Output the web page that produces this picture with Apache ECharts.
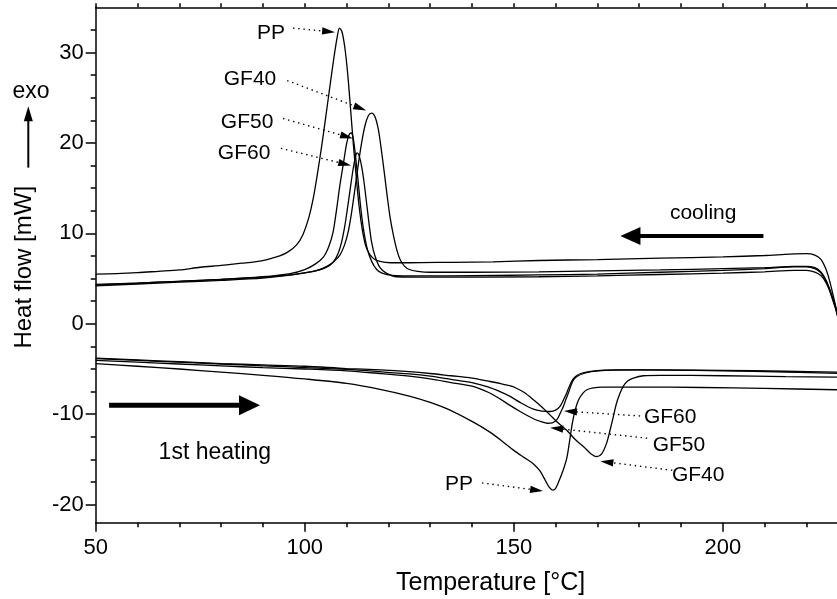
<!DOCTYPE html>
<html><head><meta charset="utf-8">
<script src="https://cdn.jsdelivr.net/npm/echarts@6/dist/echarts.min.js"></script>
<style>html,body{margin:0;padding:0;background:#fff}#c{width:837px;height:599px}</style>
</head><body><div id="c"></div>
<script>
// ---------- tick values ----------
const xTickLabels = [50, 100, 150, 200];
const xMinorTicks = [60, 70, 80, 90, 110, 120, 130, 140, 160, 170, 180, 190, 210, 220];
const xTopTicks = [50, 60, 70, 80, 90, 100, 110, 120, 130, 140, 150, 160, 170, 180, 190, 200, 210, 220];
const yTickLabels = [-20, -10, 0, 10, 20, 30];
const yMinorTicks = [-17.5, -15, -12.5, -7.5, -5, -2.5, 2.5, 5, 7.5, 12.5, 15, 17.5, 22.5, 25, 27.5, 32.5];

// ---------- cooling curves [T, heat flow] ----------
const coolPP = [[50,5.5],[55,5.55],[60,5.65],[65,5.8],[70,5.95],[75,6.25],[80,6.45],[85,6.7],[88,6.85],[91,7.1],[94,7.5],[96,7.95],[98,8.7],[99.5,9.8],[101,11.8],[102,13.8],[103,16.5],[104,19.5],[105,22.8],[106,26.2],[107,29.5],[107.8,31.8],[108.3,32.7],[108.9,32.3],[109.6,30.5],[110.3,27.5],[111,23.5],[111.6,20],[112.3,16.3],[113,13],[113.8,10.3],[114.6,8.6],[115.5,7.7],[116.5,7.2],[118,6.9],[120.5,6.75],[125,6.75],[135,6.8],[145,6.85],[156,7.0],[170,7.1],[185,7.25],[200,7.4],[210,7.55],[216,7.7],[220,7.75],[222,7.6],[223.5,7.1],[224.6,6.1],[225.5,4.8],[226.3,3.3],[227,1.9],[227.6,0.6]];
const coolGF40 = [[50,4.3],[60,4.5],[70,4.7],[80,4.9],[90,5.15],[95,5.35],[98,5.5],[101,5.7],[103.6,6.0],[105.5,6.4],[107,6.9],[108.4,7.6],[109.5,8.7],[110.4,10.2],[111.2,12.3],[112,14.9],[112.8,17.6],[113.6,20],[114.4,21.9],[115.2,23],[116,23.3],[116.8,22.9],[117.6,21.5],[118.3,19.3],[119,16.8],[119.7,14.2],[120.4,11.8],[121.2,9.8],[122,8.2],[122.8,7.1],[123.8,6.4],[125,6.0],[127,5.8],[130,5.7],[140,5.7],[156,5.75],[170,5.85],[185,5.95],[200,6.1],[210,6.2],[217,6.35],[220,6.35],[222,6.2],[223.5,5.7],[224.6,4.9],[225.5,3.9],[226.3,2.8],[227,1.8],[227.6,0.6]];
const coolGF50 = [[50,4.35],[60,4.5],[70,4.7],[80,4.9],[90,5.2],[96.5,5.55],[100,6.0],[102.5,6.6],[104.5,7.4],[105.8,8.6],[106.8,10.2],[107.6,12.6],[108.4,15.3],[109.2,17.6],[110,19.9],[110.6,20.9],[111.1,21.1],[111.6,20.5],[112.2,18.3],[112.8,15.6],[113.4,12.8],[114.1,10.3],[115,8.2],[116,6.9],[117.2,6.0],[118.5,5.6],[121,5.35],[125,5.3],[135,5.3],[156,5.4],[170,5.5],[185,5.7],[200,5.9],[210,6.1],[217,6.3],[220,6.3],[222,6.1],[223.5,5.6],[224.6,4.8],[225.5,3.8],[226.3,2.7],[227,1.7],[227.6,0.6]];
const coolGF60 = [[50,4.2],[60,4.4],[70,4.6],[80,4.8],[90,5.05],[96,5.35],[102,5.8],[105,6.2],[106.8,6.8],[108,7.8],[108.8,9.0],[109.5,10.6],[110.2,12.7],[110.9,15.0],[111.6,17.2],[112.1,18.4],[112.5,18.9],[113,18.6],[113.6,17.4],[114.2,15.6],[114.8,13.3],[115.4,11.0],[116,9.0],[116.8,7.5],[118,6.2],[119.5,5.6],[122,5.2],[130,5.15],[156,5.2],[170,5.3],[185,5.45],[200,5.6],[210,5.75],[217,5.9],[220,5.9],[222,5.7],[223.5,5.3],[224.6,4.6],[225.5,3.7],[226.3,2.6],[227,1.6],[227.6,0.5]];

// ---------- 1st heating curves [T, heat flow] ----------
const heatPP = [[50,-4.4],[60,-4.7],[70,-5.0],[80,-5.35],[90,-5.7],[100,-6.1],[110,-6.6],[118,-7.25],[125,-8.0],[130,-8.7],[135,-9.6],[140,-10.8],[144,-11.9],[147,-12.9],[150,-14.0],[152.5,-14.8],[154.7,-15.5],[156.3,-16.3],[157.5,-17.3],[158.5,-18.1],[159.3,-18.4],[160,-18.2],[160.8,-17.4],[161.8,-16.2],[162.7,-14.8],[163.4,-12.8],[164,-11.0],[164.7,-9.5],[165.5,-8.4],[166.5,-7.7],[167.5,-7.3],[169,-7.1],[171,-7.0],[180,-7.0],[195,-7.05],[210,-7.15],[228,-7.3]];
const heatGF40 = [[50,-3.8],[60,-4.0],[70,-4.2],[80,-4.4],[90,-4.55],[100,-4.7],[110,-4.95],[118,-5.1],[125,-5.3],[130,-5.5],[135,-5.75],[140,-6.0],[144,-6.35],[146.7,-6.6],[149,-6.85],[150.5,-7.1],[152.5,-7.6],[154.7,-8.4],[156.7,-9.2],[158.7,-10.1],[160.7,-11.0],[162.7,-11.8],[164.7,-12.8],[166.7,-13.6],[168.5,-14.4],[169.9,-14.7],[171,-14.4],[172.2,-13.2],[173,-11.8],[173.8,-10.3],[174.5,-8.9],[175.3,-7.8],[176.2,-6.9],[177.3,-6.3],[178.6,-6.0],[181,-5.75],[185,-5.7],[200,-5.75],[215,-5.85],[228,-5.9]];
const heatGF50 = [[50,-4.05],[60,-4.25],[70,-4.45],[80,-4.65],[90,-4.85],[100,-5.0],[110,-5.2],[118,-5.5],[125,-5.8],[130,-6.1],[135,-6.5],[140,-6.9],[144,-7.6],[146.7,-8.3],[149,-9.0],[151.5,-9.7],[154.7,-10.5],[156.7,-10.85],[158,-11.0],[159.2,-10.95],[160.3,-10.6],[161.1,-9.9],[161.9,-9.1],[162.5,-8.3],[163.1,-7.6],[163.7,-6.8],[164.3,-6.2],[165.2,-5.8],[166.7,-5.5],[168.5,-5.3],[172,-5.15],[180,-5.1],[200,-5.2],[215,-5.35],[228,-5.5]];
const heatGF60 = [[50,-3.85],[60,-4.05],[70,-4.25],[80,-4.45],[90,-4.65],[100,-4.85],[110,-5.05],[118,-5.3],[125,-5.55],[130,-5.8],[135,-6.15],[140,-6.5],[144,-7.0],[146.7,-7.5],[149,-8.0],[151.5,-8.7],[154.7,-9.45],[156.7,-9.65],[158.7,-9.7],[160,-9.55],[161.1,-9.1],[162,-8.3],[162.7,-7.6],[163.4,-6.8],[164.2,-6.1],[165,-5.75],[166,-5.5],[168,-5.3],[170.6,-5.15],[175,-5.1],[185,-5.1],[200,-5.15],[215,-5.25],[228,-5.35]];

// ---------- annotations (data units) ----------
const pointerLabels = [
  { text: 'PP',   at: [91.9, 32.1],   from: [97.2, 32.7],   to: [107.25, 32.25] },
  { text: 'GF40', at: [86.9, 27.0],   from: [95.8, 26.9],   to: [114.7, 23.6] },
  { text: 'GF50', at: [86.2, 22.3],   from: [94.8, 22.7],   to: [111.55, 20.5] },
  { text: 'GF60', at: [85.5, 18.9],   from: [94.3, 19.4],   to: [111.1, 17.5] },
  { text: 'PP',   at: [136.9, -17.75],from: [142.4, -17.6], to: [157.0, -18.5] },
  { text: 'GF60', at: [187.4, -10.3], from: [180.2, -10.2], to: [162.0, -9.65] },
  { text: 'GF50', at: [189.5, -13.4], from: [181.9, -12.65],to: [158.7, -11.5] },
  { text: 'GF40', at: [194.1, -16.75],from: [187.9, -16.2], to: [170.7, -15.2] }
];
const bigArrows = [
  { text: 'cooling',     textAt: [195.3, 12.28], from: [209.7, 9.7], to: [175.5, 9.7], w: 4, head: 20, hw: 9, size: 21 },
  { text: '1st heating', textAt: [78.5, -14.2],  from: [53.2, -9.0], to: [89.3, -9.0],  w: 5, head: 21, hw: 10, size: 23 }
];

const FONT = '"Liberation Sans", Arial, sans-serif';
const chart = echarts.init(document.getElementById('c'), null, { renderer: 'canvas' });

function curve(name, data) {
  return { name, type: 'line', data, xAxisIndex: 0, yAxisIndex: 0, symbol: 'none', showSymbol: false,
    smooth: 0.3, lineStyle: { color: '#000', width: 1.3 }, silent: true, animation: false, z: 3 };
}
const axisLineStyle = { color: '#000', width: 1.5 };
const X_MIN = 50, X_MAX = 227.3, Y_MIN = -22, Y_MAX = 35;

chart.setOption({
  animation: false,
  backgroundColor: '#fff',
  grid: { left: 95.7, top: 7.3, bottom: 76.3, right: 0, containLabel: false, outerBoundsMode: 'none' },
  xAxis: [
    { type: 'value', min: X_MIN, max: X_MAX, position: 'bottom',
      axisLine: { show: true, onZero: false, lineStyle: axisLineStyle },
      axisTick: { show: true, customValues: xTickLabels, length: 9, lineStyle: axisLineStyle },
      axisLabel: { customValues: xTickLabels, color: '#000', fontSize: 22, fontFamily: FONT, margin: 14 },
      splitLine: { show: false } },
    { type: 'value', min: X_MIN, max: X_MAX, position: 'bottom',
      axisLine: { show: false, onZero: false },
      axisTick: { show: true, customValues: xMinorTicks, length: 4.5, lineStyle: axisLineStyle },
      axisLabel: { show: false }, splitLine: { show: false } },
    { type: 'value', min: X_MIN, max: X_MAX, position: 'top',
      axisLine: { show: true, onZero: false, lineStyle: axisLineStyle },
      axisTick: { show: true, customValues: xTopTicks, length: 4, lineStyle: axisLineStyle },
      axisLabel: { show: false }, splitLine: { show: false } }
  ],
  yAxis: [
    { type: 'value', min: Y_MIN, max: Y_MAX, position: 'left',
      axisLine: { show: true, onZero: false, lineStyle: axisLineStyle },
      axisTick: { show: true, customValues: yTickLabels, length: 10, lineStyle: axisLineStyle },
      axisLabel: { customValues: yTickLabels, color: '#000', fontSize: 22, fontFamily: FONT, margin: 12 },
      splitLine: { show: false } },
    { type: 'value', min: Y_MIN, max: Y_MAX, position: 'left',
      axisLine: { show: false, onZero: false },
      axisTick: { show: true, customValues: yMinorTicks, length: 5, lineStyle: axisLineStyle },
      axisLabel: { show: false }, splitLine: { show: false } }
  ],
  series: [
    curve('PP cooling', coolPP), curve('GF40 cooling', coolGF40),
    curve('GF50 cooling', coolGF50), curve('GF60 cooling', coolGF60),
    curve('PP heating', heatPP), curve('GF40 heating', heatGF40),
    curve('GF50 heating', heatGF50), curve('GF60 heating', heatGF60)
  ]
});

const P = p => chart.convertToPixel({ xAxisIndex: 0, yAxisIndex: 0 }, p);
const g = [];
function arrow(f, to, width, headLen, hw, dash) {
  const dx = to[0] - f[0], dy = to[1] - f[1], L = Math.hypot(dx, dy), ux = dx / L, uy = dy / L;
  const bx = to[0] - ux * headLen, by = to[1] - uy * headLen;
  const st = { stroke: '#000', lineWidth: width };
  if (dash) st.lineDash = dash;
  g.push({ type: 'line', shape: { x1: f[0], y1: f[1], x2: bx + ux * 1, y2: by + uy * 1 }, style: st, z: 10 });
  g.push({ type: 'polygon', shape: { points: [[to[0], to[1]], [bx - uy * hw, by + ux * hw], [bx + uy * hw, by - ux * hw]] },
    style: { fill: '#000' }, z: 10 });
}
function text(str, p, size, rot) {
  const o = { type: 'text', x: p[0], y: p[1], style: { text: str, fontSize: size, fontFamily: FONT, fill: '#000',
    align: 'center', verticalAlign: 'middle' }, z: 10 };
  if (rot) o.rotation = rot;
  g.push(o);
}
pointerLabels.forEach(a => {
  text(a.text, P(a.at), 21);
  arrow(P(a.from), P(a.to), 1.4, 13, 3.6, [1.4, 3.8]);
});
bigArrows.forEach(a => {
  text(a.text, P(a.textAt), a.size);
  arrow(P(a.from), P(a.to), a.w, a.head, a.hw);
});
// axis titles and the "exo" marker
const axisX = P([X_MIN, 0])[0];
text('Temperature [°C]', P([144.45, -28.7]), 25);
text('Heat flow [mW]', [axisX - 71.7, P([X_MIN, 6.25])[1]], 24, Math.PI / 2);
text('exo', [axisX - 64.7, P([X_MIN, 25.7])[1]], 23);
arrow([axisX - 67.4, P([X_MIN, 17.27])[1]], [axisX - 67.4, P([X_MIN, 24.05])[1]], 2, 15, 4.5);
chart.setOption({ graphic: g });
</script>
</body></html>
